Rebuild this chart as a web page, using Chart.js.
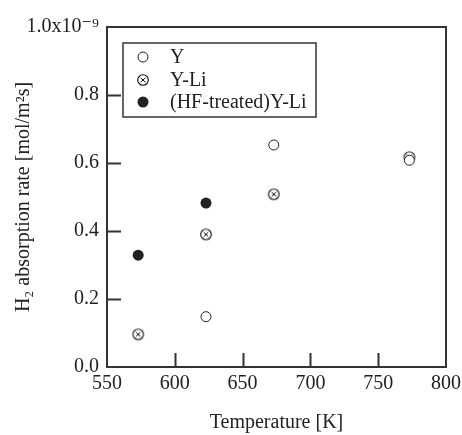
<!DOCTYPE html>
<html>
<head>
<meta charset="utf-8">
<script src="https://cdn.jsdelivr.net/npm/chart.js@4.4.0/dist/chart.umd.min.js"></script>
<style>
  html, body { margin: 0; padding: 0; background: #fff; }
</style>
</head>
<body>
<canvas id="chart" width="462" height="435"></canvas>
<script>
// Rates are in units of 1e-9 mol/m^2 s (top tick carries the x10^-9)
const seriesNames = ['Y', 'Y-Li', '(HF-treated)Y-Li'];
const tempY = [623, 673, 773];
const rateY = [0.148, 0.653, 0.608];
const tempYLi = [573, 623, 673, 773];
const rateYLi = [0.096, 0.390, 0.508, 0.617];
const tempHF = [573, 623];
const rateHF = [0.329, 0.482];
const xTicks = [550, 600, 650, 700, 750, 800];
const yTicks = [0.0, 0.2, 0.4, 0.6, 0.8, 1.0];

const ink = '#222';
const serif = "'Liberation Serif', 'DejaVu Serif', serif";

// circle with a cross inside
function makeCrossCircle() {
    const c = document.createElement('canvas');
    c.width = 14;
    c.height = 14;
    const g = c.getContext('2d');
    g.strokeStyle = '#111';
    g.lineWidth = 1.1;
    g.beginPath();
    g.arc(7, 7, 5.3, 0, Math.PI * 2);
    g.stroke();
    g.lineWidth = 1;
    g.beginPath();
    g.moveTo(4.7, 4.7); g.lineTo(9.3, 9.3);
    g.moveTo(9.3, 4.7); g.lineTo(4.7, 9.3);
    g.stroke();
    return c;
}
const crossCircle = makeCrossCircle();

function pts(xs, ys) {
    return xs.map((x, i) => ({ x: x, y: ys[i] }));
}

// frame, inward ticks and boxed legend
const framePlugin = {
    id: 'frame',
    afterDraw(chart) {
        const ctx = chart.ctx;
        const a = chart.chartArea;
        const xs = chart.scales.x, ys = chart.scales.y;
        ctx.save();
        ctx.strokeStyle = '#333';
        ctx.lineWidth = 2;
        ctx.strokeRect(a.left, a.top, a.right - a.left, a.bottom - a.top);

        ctx.beginPath();
        xTicks.slice(1, -1).forEach(v => {
            const px = Math.round(xs.getPixelForValue(v)) + 0.5;
            ctx.moveTo(px, a.bottom);
            ctx.lineTo(px, a.bottom - 14);
        });
        yTicks.slice(1, -1).forEach(v => {
            const py = Math.round(ys.getPixelForValue(v)) + 0.5;
            ctx.moveTo(a.left, py);
            ctx.lineTo(a.left + 14, py);
        });
        ctx.stroke();

        // legend
        const lx = 123, ly = 43, lw = 193, lh = 74;
        ctx.lineWidth = 1.5;
        ctx.fillStyle = '#fff';
        ctx.fillRect(lx, ly, lw, lh);
        ctx.strokeRect(lx, ly, lw, lh);
        const rows = [57, 80, 102];
        ctx.font = '20px ' + serif;
        ctx.textBaseline = 'middle';
        chart.data.datasets.forEach((ds, i) => {
            const y = rows[i];
            const mx = 143;
            if (i === 0) {
                ctx.beginPath();
                ctx.arc(mx, y, 5, 0, Math.PI * 2);
                ctx.fillStyle = '#fff';
                ctx.fill();
                ctx.lineWidth = 1;
                ctx.strokeStyle = ink;
                ctx.stroke();
            } else if (i === 1) {
                ctx.drawImage(crossCircle, mx - 7, y - 7);
            } else {
                ctx.beginPath();
                ctx.arc(mx, y, 5.5, 0, Math.PI * 2);
                ctx.fillStyle = ink;
                ctx.fill();
            }
            ctx.fillStyle = ink;
            ctx.fillText(ds.label, 170, y + 1);
        });
        ctx.restore();
    }
};

new Chart(document.getElementById('chart'), {
    type: 'scatter',
    data: {
        datasets: [
            {
                label: seriesNames[0],
                data: pts(tempY, rateY),
                pointStyle: 'circle',
                pointRadius: 5,
                backgroundColor: '#fff',
                borderColor: ink,
                borderWidth: 1
            },
            {
                label: seriesNames[1],
                data: pts(tempYLi, rateYLi),
                pointStyle: crossCircle,
                pointRadius: 6
            },
            {
                label: seriesNames[2],
                data: pts(tempHF, rateHF),
                pointStyle: 'circle',
                pointRadius: 5.5,
                backgroundColor: ink,
                borderColor: ink,
                borderWidth: 0
            }
        ]
    },
    options: {
        responsive: false,
        animation: false,
        layout: { padding: { left: 0, right: 16, top: 27, bottom: 0 } },
        plugins: {
            legend: { display: false },
            tooltip: { enabled: false }
        },
        scales: {
            x: {
                type: 'linear',
                min: 550,
                max: 800,
                afterBuildTicks: s => { s.ticks = xTicks.map(v => ({ value: v })); },
                afterFit: s => {
                    s.height = 68;
                    s.paddingLeft = 0;
                    s.paddingRight = 0;
                },
                grid: { display: false, drawTicks: false },
                border: { display: false },
                ticks: {
                    padding: 5,
                    color: ink,
                    font: { family: serif, size: 20 },
                    callback: v => String(v)
                },
                title: {
                    display: true,
                    text: 'Temperature [K]',
                    color: ink,
                    font: { family: serif, size: 20 },
                    padding: { top: 0, bottom: 0 }
                }
            },
            y: {
                type: 'linear',
                min: 0,
                max: 1.0,
                afterBuildTicks: s => { s.ticks = yTicks.map(v => ({ value: v })); },
                afterFit: s => {
                    s.width = 107;
                    s.paddingTop = 0;
                    s.paddingBottom = 0;
                },
                grid: { display: false, drawTicks: false },
                border: { display: false },
                ticks: {
                    padding: 8,
                    color: ink,
                    font: { family: serif, size: 20 },
                    callback: v => (v === 1 ? '1.0x10\u207B\u2079' : v.toFixed(1))
                },
                title: {
                    display: true,
                    text: 'H\u2082 absorption rate [mol/m\u00B2s]',
                    color: ink,
                    font: { family: serif, size: 20 },
                    padding: { top: 12, bottom: 0 }
                }
            }
        }
    },
    plugins: [framePlugin]
});
</script>
</body>
</html>
